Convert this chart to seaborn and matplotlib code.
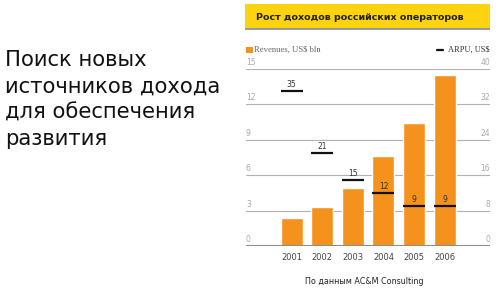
import matplotlib
matplotlib.use("Agg")
import matplotlib.pyplot as plt
import matplotlib.transforms as mtransforms
from matplotlib.patches import Rectangle
import numpy as np
import pandas as pd
import seaborn as sns

years = ["2001", "2002", "2003", "2004", "2005", "2006"]
revenues = [2.35, 3.3, 4.95, 7.65, 10.4, 14.5]
arpu = [35, 21, 15, 12, 9, 9]
left_ticks = [0, 3, 6, 9, 12, 15]
right_ticks = [0, 8, 16, 24, 32, 40]
title = "Рост доходов российских операторов"
headline = ["Поиск новых", "источников дохода", "для обеспечения", "развития"]
source = "По данным AC&M Consulting"

sns.set_style("white")
plt.rcParams["font.family"] = ["DejaVu Sans"]

W, H = 500, 289
fig = plt.figure(figsize=(W / 100, H / 100), dpi=100)

def fx(px):
    return px / W

def fy(py):
    return 1 - py / H

orange = "#F5921E"
grid_c = "#b0b0b0"
lab_c = "#a8a8a8"

# main axes
ax_l, ax_r, ax_t, ax_b = 246, 490, 69, 246
ax = fig.add_axes([fx(ax_l), fy(ax_b), fx(ax_r - ax_l), (ax_b - ax_t) / H])
df = pd.DataFrame({"year": years, "rev": revenues, "arpu": arpu})
sns.barplot(data=df, x="year", y="rev", color=orange, saturation=1, width=0.72, ax=ax, zorder=3)
ax.set_xlim(-1.49, 6.48)
ax.set_ylim(0, 15)
ax.set_xlabel("")
ax.set_ylabel("")
for s in ax.spines.values():
    s.set_visible(False)
ax.set_yticks(left_ticks)
ax.set_yticklabels([])
ax.tick_params(axis="y", length=0)
ax.tick_params(axis="x", length=0, pad=5, labelsize=6, labelcolor="#444444")
for t in left_ticks:
    if t == 0:
        ax.axhline(t, color="#8c8c8c", lw=2.2, zorder=4)
    else:
        ax.axhline(t, color=grid_c, lw=0.8, zorder=1)

trans_l = mtransforms.blended_transform_factory(ax.transAxes, ax.transData)
off = mtransforms.offset_copy(trans_l, fig=fig, y=1.5, units="points")
for t in left_ticks:
    ax.text(0.0, t, str(t), transform=off, ha="left", va="bottom", fontsize=5.5, color=lab_c)

ax2 = ax.twinx()
ax2.set_ylim(0, 40)
for s in ax2.spines.values():
    s.set_visible(False)
ax2.set_yticks([])
trans_r = mtransforms.blended_transform_factory(ax2.transAxes, ax2.transData)
off_r = mtransforms.offset_copy(trans_r, fig=fig, y=1.5, units="points")
for t in right_ticks:
    ax2.text(1.0, t, str(t), transform=off_r, ha="right", va="bottom", fontsize=5.5, color=lab_c)

xs = np.arange(len(years))
ax2.hlines(arpu, xs - 0.36, xs + 0.36, color="#111111", lw=1.6, zorder=5)
for x, v in zip(xs, arpu):
    ax2.annotate(str(v), (x, v), xytext=(0, 1.5), textcoords="offset points",
                 ha="center", va="bottom", fontsize=5.5, color="#333333")

# title box
fig.patches.append(Rectangle((fx(245), fy(30)), fx(245), 2 / H, transform=fig.transFigure,
                             facecolor="#9a9a9a", edgecolor="none"))
fig.patches.append(Rectangle((fx(245), fy(28)), fx(245), 24 / H, transform=fig.transFigure,
                             facecolor="#FDD20E", edgecolor="none"))
fig.text(fx(256), fy(17), title, ha="left", va="center", fontsize=6.8,
         fontweight="bold", color="#222222")

# legend
fig.patches.append(Rectangle((fx(246), fy(53)), fx(7), 6 / H, transform=fig.transFigure,
                             facecolor=orange, edgecolor="none"))
fig.text(fx(254), fy(50), "Revenues, US$ bln", ha="left", va="center", fontsize=6.2,
         family=["Liberation Serif"], color="#666666")
fig.text(fx(490), fy(50), "ARPU, US$", ha="right", va="center", fontsize=6.0,
         family=["Liberation Serif"], color="#333333")
fig.add_artist(plt.Line2D([fx(437), fx(443)], [fy(50), fy(50)], color="#111111", lw=1.6))

# headline
for i, line in enumerate(headline):
    fig.text(fx(5), fy(66 + 26.3 * i), line, ha="left", va="baseline", fontsize=15.2,
             color="#111111")

fig.text(fx(364), fy(282), source, ha="center", va="center", fontsize=5.8, color="#222222")

fig.savefig("out.png", dpi=100, facecolor="white")
